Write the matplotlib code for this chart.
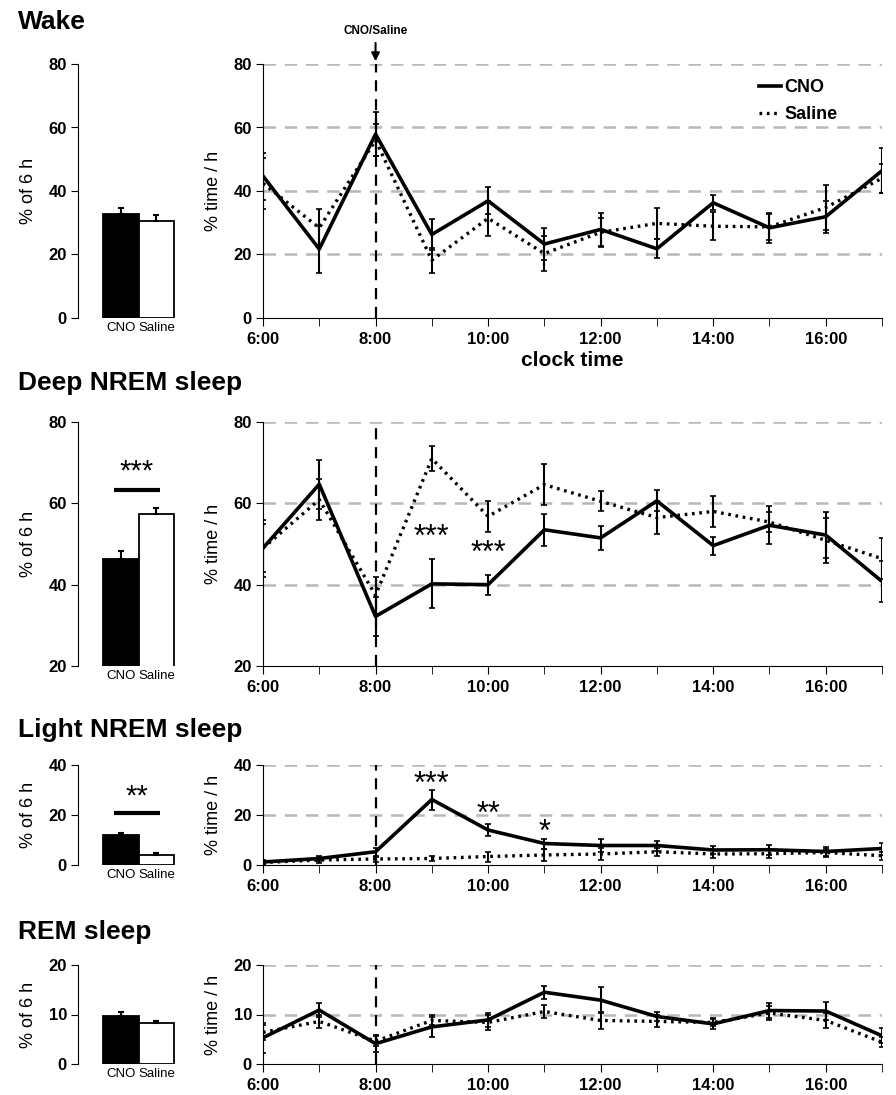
import numpy as np
import matplotlib
matplotlib.use("Agg")
import matplotlib.pyplot as plt
from matplotlib.lines import Line2D

plt.rcParams['font.family'] = ['Liberation Sans', 'DejaVu Sans']

hours = list(range(6, 18))
hour_labels = ["6:00", "8:00", "10:00", "12:00", "14:00", "16:00"]
groups = ["CNO", "Saline"]

# Wake
wake_cno = [44.7, 21.7, 57.9, 26.3, 36.9, 23.3, 27.9, 21.8, 36.3, 28.4, 31.9, 46.4]
wake_cno_err = [7.4, 7.4, 7.0, 5.0, 4.3, 5.0, 5.3, 3.0, 2.4, 4.8, 5.0, 7.0]
wake_sal = [42.4, 28.4, 56.0, 18.2, 31.4, 20.3, 27.0, 29.8, 28.9, 28.7, 34.8, 44.0]
wake_sal_err = [8.0, 6.0, 5.0, 4.0, 5.5, 5.5, 4.5, 5.0, 4.4, 4.0, 7.0, 4.5]
wake_bar = [32.6, 30.5]
wake_bar_err = [2.2, 2.0]

# Deep NREM
deep_cno = [49.0, 64.7, 32.2, 40.2, 40.0, 53.5, 51.5, 60.6, 49.6, 54.6, 52.2, 40.8]
deep_cno_err = [7.0, 6.0, 4.7, 6.0, 2.5, 4.0, 3.0, 2.6, 2.2, 4.7, 5.7, 5.0]
deep_sal = [49.0, 60.9, 37.4, 71.0, 56.8, 64.6, 60.5, 56.5, 58.0, 55.4, 50.9, 46.4]
deep_sal_err = [6.0, 5.0, 4.5, 3.0, 3.8, 5.0, 2.5, 4.0, 3.8, 2.5, 5.5, 5.0]
deep_bar = [46.3, 57.5]
deep_bar_err = [2.0, 1.4]

# Light NREM
light_cno = [1.2, 2.6, 5.3, 26.2, 14.0, 8.6, 7.8, 7.8, 6.0, 6.1, 5.4, 6.6]
light_cno_err = [0.8, 1.0, 1.5, 4.0, 2.4, 2.0, 2.5, 2.0, 1.5, 2.0, 2.0, 2.4]
light_sal = [1.0, 2.0, 2.4, 2.6, 3.4, 4.0, 4.4, 5.3, 4.4, 4.5, 5.0, 3.7]
light_sal_err = [0.5, 1.0, 1.0, 1.0, 2.0, 2.5, 2.5, 1.5, 1.5, 1.5, 1.5, 1.5]
light_bar = [11.9, 3.9]
light_bar_err = [1.1, 0.9]

# REM
rem_cno = [5.3, 10.9, 4.1, 7.5, 8.9, 14.5, 12.9, 9.6, 8.1, 10.8, 10.7, 5.7]
rem_cno_err = [3.0, 1.5, 1.7, 2.0, 1.4, 1.3, 2.6, 0.9, 1.0, 1.5, 1.8, 1.5]
rem_sal = [6.4, 8.6, 4.6, 8.8, 8.4, 10.6, 8.8, 8.6, 8.4, 10.3, 8.8, 4.4]
rem_sal_err = [1.5, 1.3, 1.0, 1.0, 1.5, 1.3, 1.7, 1.2, 0.8, 1.5, 1.6, 1.0]
rem_bar = [9.7, 8.3]
rem_bar_err = [0.9, 0.3]

# significance marks on the time course: (hour, y, text)
deep_stars = [(9, 51.5, "***"), (10, 47.5, "***")]
light_stars = [(9, 32.0, "***"), (10, 20.0, "**"), (11, 13.0, "*")]

W, H = 896, 1095
fig = plt.figure(figsize=(W / 100, H / 100), dpi=100)


def px_axes(l, t, r, b):
    return fig.add_axes([l / W, 1 - b / H, (r - l) / W, (b - t) / H])


rows = [
    dict(title="Wake", ty=22, top=64, bot=318, ylim=(0, 80), yt=[0, 20, 40, 60, 80],
         cno=wake_cno, ce=wake_cno_err, sal=wake_sal, se=wake_sal_err,
         bar=wake_bar, be=wake_bar_err, stars=[], bsig=None),
    dict(title="Deep NREM sleep", ty=383, top=422, bot=666, ylim=(20, 80), yt=[20, 40, 60, 80],
         cno=deep_cno, ce=deep_cno_err, sal=deep_sal, se=deep_sal_err,
         bar=deep_bar, be=deep_bar_err, stars=deep_stars, bsig=(63.4, 64.3, "***")),
    dict(title="Light NREM sleep", ty=730, top=765, bot=865, ylim=(0, 40), yt=[0, 20, 40],
         cno=light_cno, ce=light_cno_err, sal=light_sal, se=light_sal_err,
         bar=light_bar, be=light_bar_err, stars=light_stars, bsig=(20.9, 21.8, "**")),
    dict(title="REM sleep", ty=932, top=965, bot=1064, ylim=(0, 20), yt=[0, 10, 20],
         cno=rem_cno, ce=rem_cno_err, sal=rem_sal, se=rem_sal_err,
         bar=rem_bar, be=rem_bar_err, stars=[], bsig=None),
]

grid_kw = dict(color="#b8b8b8", lw=1.8, dashes=(5, 3.5), zorder=0)

for i, r in enumerate(rows):
    fig.text(18 / W, 1 - r["ty"] / H, r["title"], fontsize=19, fontweight="bold",
             va="center", ha="left")

    # bar chart (6 h totals)
    ab = px_axes(78, r["top"], 200, r["bot"])
    ab.bar([0, 1], r["bar"], width=1.0, color=["black", "white"], edgecolor="black",
           linewidth=1.3, yerr=[[0, 0], r["be"]], error_kw=dict(lw=1.5, capsize=2.5, capthick=1.5))
    ab.set_xlim(-1.21, 2.23)
    ab.set_ylim(*r["ylim"])
    ab.set_yticks(r["yt"])
    ab.set_xticks([0, 1])
    ab.set_xticklabels(groups, fontsize=9.5)
    ab.tick_params(axis="x", length=0, pad=3)
    ab.tick_params(axis="y", length=5, labelsize=12, pad=3)
    for t in ab.get_yticklabels():
        t.set_fontweight("bold")
    for s in ["top", "right", "bottom"]:
        ab.spines[s].set_visible(False)
    ab.set_ylabel("% of 6 h", fontsize=13, labelpad=8)
    if r["bsig"] is not None:
        ly, sy, txt = r["bsig"]
        ab.plot([-0.2, 1.1], [ly, ly], color="black", lw=3, solid_capstyle="butt", clip_on=False)
        ab.text(0.45, sy, txt, ha="center", va="bottom", fontsize=21, clip_on=False)

    # time course
    al = px_axes(263, r["top"], 882, r["bot"])
    for g in r["yt"]:
        if g != r["ylim"][0]:
            al.axhline(g, **grid_kw)
    al.axvline(8, color="black", lw=1.6, dashes=(5, 3.5), zorder=1)
    al.errorbar(hours, r["sal"], yerr=r["se"], color="black", lw=2.4, dashes=(0.8, 1.4),
                ecolor="black", elinewidth=1.5, capsize=2, capthick=1.2, zorder=2)
    al.errorbar(hours, r["cno"], yerr=r["ce"], color="black", lw=2.6,
                ecolor="black", elinewidth=1.5, capsize=2, capthick=1.2, zorder=3)
    for hx, hy, txt in r["stars"]:
        al.text(hx, hy, txt, ha="center", va="center", fontsize=22)
    al.set_xlim(6, 17)
    al.set_ylim(*r["ylim"])
    al.set_yticks(r["yt"])
    al.set_xticks(hours, minor=True)
    al.set_xticks(hours[::2])
    al.set_xticklabels(hour_labels)
    al.tick_params(axis="x", which="both", length=6, labelsize=12, pad=4)
    al.tick_params(axis="y", length=5, labelsize=12, pad=3)
    for t in al.get_yticklabels() + al.get_xticklabels():
        t.set_fontweight("bold")
    for s in ["top", "right"]:
        al.spines[s].set_visible(False)
    al.set_ylabel("% time / h", fontsize=13, labelpad=8)
    for a in (al, ab):
        a.patch.set_alpha(0)

    if i == 0:
        al.set_xlabel("clock time", fontsize=15, fontweight="bold", labelpad=3)
        handles = [Line2D([], [], color="black", lw=2.6),
                   Line2D([], [], color="black", lw=2.4, dashes=(0.8, 1.4))]
        al.legend(handles, groups, loc="upper left", bbox_to_anchor=(0.775, 1.005),
                  frameon=False, handlelength=1.2, handletextpad=0.2,
                  prop=dict(weight="bold", size=13), labelspacing=0.55)
        al.annotate("", xy=(8, 80), xytext=(8, 87.5),
                    arrowprops=dict(arrowstyle="-|>", color="black", lw=1.5, mutation_scale=12),
                    annotation_clip=False)
        al.text(8, 90.5, "CNO/Saline", ha="center", va="center", fontsize=8.5,
                fontweight="bold", clip_on=False)

fig.savefig("out.png", dpi=100)
